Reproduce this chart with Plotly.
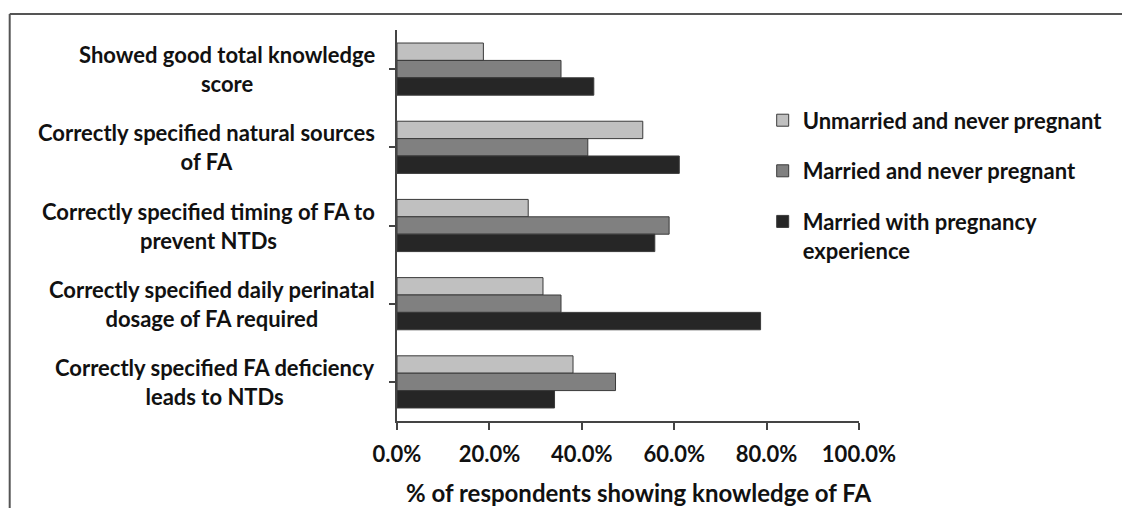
import plotly.graph_objects as go

categories = [
    "Showed good total knowledge<br>score",
    "Correctly specified natural sources<br>of FA",
    "Correctly specified timing of FA to<br>prevent NTDs",
    "Correctly specified daily perinatal<br>dosage of FA required",
    "Correctly specified FA deficiency<br>leads to NTDs",
]
series_names = [
    "Unmarried and never pregnant",
    "Married and never pregnant",
    "Married with pregnancy<br>experience",
]
unmarried_never_pregnant = [0.187, 0.532, 0.284, 0.316, 0.381]
married_never_pregnant = [0.355, 0.413, 0.589, 0.355, 0.473]
married_with_pregnancy = [0.426, 0.611, 0.558, 0.787, 0.341]
series_values = [unmarried_never_pregnant, married_never_pregnant, married_with_pregnancy]
colors = ["#c0c0c0", "#808080", "#262626"]
x_tick_values = [0, 0.2, 0.4, 0.6, 0.8, 1.0]
x_tick_labels = ["0.0%", "20.0%", "40.0%", "60.0%", "80.0%", "100.0%"]
x_title = "% of respondents showing knowledge of FA"

W, H = 1122, 508
L, R, T, B = 397.3, 262.7, 29.5, 87
pw, ph = W - L - R, H - T - B
FONT = "Lato"

def fnt(size):
    return dict(family=FONT, size=size, color="#111", weight="bold")

def px_x(p):
    return (p - L) / pw

def px_y(p):
    return 1 - (p - T) / ph

fig = go.Figure()
for i, (name, vals, col) in enumerate(zip(series_names, series_values, colors)):
    fig.add_trace(go.Bar(
        y=list(range(len(categories))), x=vals, name=name, orientation="h",
        marker=dict(color=col, line=dict(color="#3a3a3a", width=1)),
        legendgroup=f"g{i}",
    ))

for i, cat in enumerate(categories):
    fig.add_annotation(
        x=px_x(377), xref="paper", y=i, yref="y",
        text=cat, showarrow=False, xanchor="right", yanchor="middle",
        align="center", font=fnt(22),
    )

fig.add_annotation(
    x=px_x(639), xref="paper", y=px_y(493), yref="paper",
    text=x_title, showarrow=False, xanchor="center", yanchor="middle",
    font=fnt(24),
)

fig.add_shape(type="line", xref="paper", yref="paper",
              x0=px_x(10), x1=px_x(1130), y0=px_y(13.5), y1=px_y(13.5),
              line=dict(color="#555", width=2))
fig.add_shape(type="line", xref="paper", yref="paper",
              x0=px_x(10), x1=px_x(10), y0=px_y(13.5), y1=px_y(520),
              line=dict(color="#555", width=2))

fig.update_layout(
    width=W, height=H,
    margin=dict(l=L, r=R, t=T, b=B, autoexpand=False),
    paper_bgcolor="white", plot_bgcolor="white",
    barmode="group", bargap=0.333, bargroupgap=0,
    font=fnt(22),
    showlegend=True,
    legend=dict(x=px_x(763), y=px_y(99), xanchor="left", yanchor="top",
                traceorder="grouped", tracegroupgap=19, valign="top",
                font=fnt(22), bgcolor="rgba(0,0,0,0)"),
    xaxis=dict(range=[0, 1], tickvals=x_tick_values, ticktext=x_tick_labels,
               showline=True, linecolor="#444", linewidth=1.5,
               ticks="outside", ticklen=7, tickcolor="#444", tickwidth=1.5,
               showgrid=False, zeroline=False, ticklabelstandoff=6,
               tickfont=fnt(22)),
    yaxis=dict(range=[4.5, -0.5], showticklabels=False, tickmode="linear",
               tick0=0, dtick=1, tickson="boundaries",
               showline=True, linecolor="#444", linewidth=1.5,
               ticks="outside", ticklen=6, tickcolor="#444", tickwidth=1.5,
               showgrid=False, zeroline=False),
)

fig.write_html("out.html")
